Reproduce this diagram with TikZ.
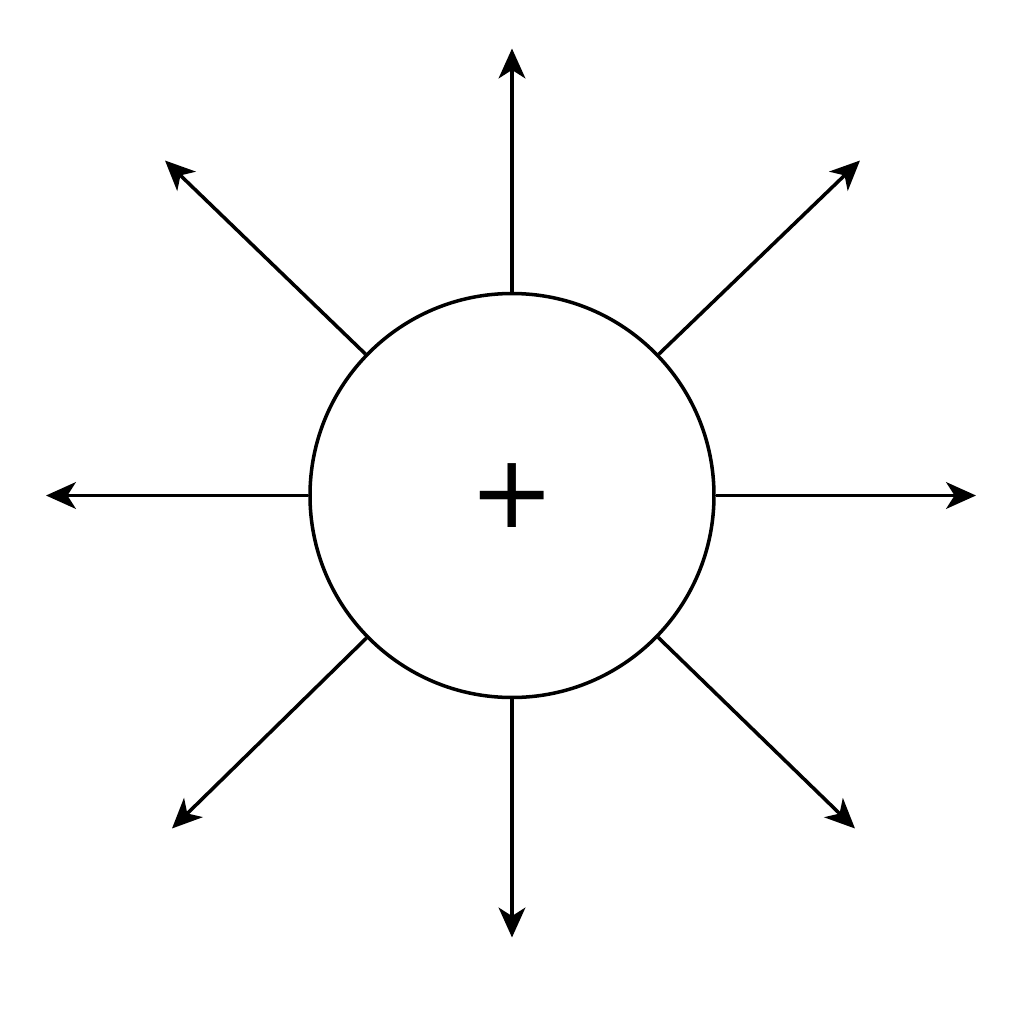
\documentclass[tikz,border=0pt]{standalone}
\usepackage{fontspec}
\usepackage{tikz}
\usetikzlibrary{arrows.meta}
\newfontfamily\plusfont{DejaVu Sans}

\begin{document}
\begin{tikzpicture}[x=1cm,y=1cm]
  \useasboundingbox (-5.12,-5.285) rectangle (5.12,4.955);
  %% The charge in the middle
  \node[circle,draw,line width=1pt,minimum size=4.04cm,inner sep=0pt,
        font=\plusfont\fontsize{29}{29}\selectfont] (charge) at (0,0) {+};

  %% End points of the field lines
  \foreach \n/\x/\y in {up/0/4.47, down/0/-4.42, left/-4.66/0, right/4.64/0,
                        ne/3.48/3.35, nw/-3.47/3.35, sw/-3.40/-3.33, se/3.43/-3.33}
  {
    \coordinate (E\n) at (\x,\y);
    \draw[line width=1pt,-{Stealth[length=8.5pt,width=7.6pt,inset=2.4pt]}] (charge) -- (E\n);
  }
\end{tikzpicture}
\end{document}
